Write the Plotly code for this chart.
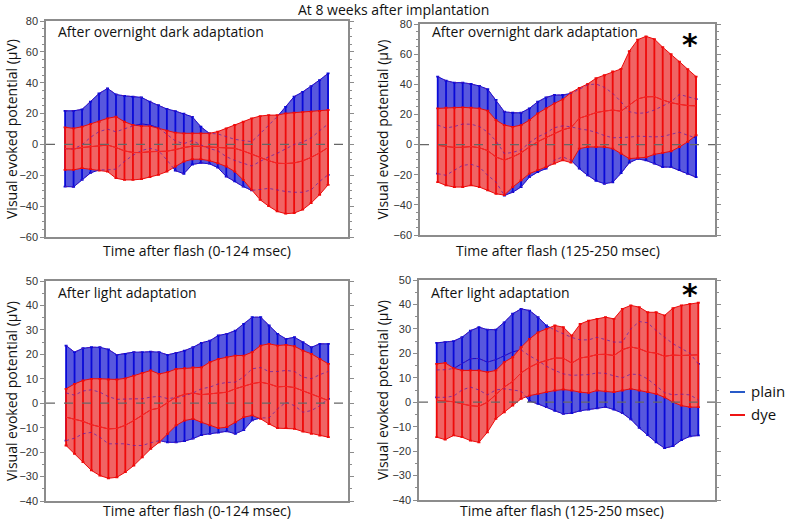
import plotly.graph_objects as go

# ---------------- data ----------------
t_early = list(range(0, 125, 4))      # msec, 0-124
t_late = list(range(125, 250, 4))     # msec, 125-249

# Panel 1: dark adaptation, 0-124 msec
p1_plain_upper = [21.8, 21.8, 22.7, 27.7, 33.0, 36.3, 32.4, 31.5, 30.9, 30.5, 27.7, 25.5, 23.0, 21.6, 20.0, 17.9,
                  11.5, 7.2, 6.8, 5.0, 3.3, 2.5, 1.8, 7.0, 12.6, 18.0, 24.4, 31.0, 34.0, 37.8, 41.7, 46.0]
p1_plain_lower = [-27.3, -27.5, -23.0, -18.5, -16.5, -16.5, -16.0, -11.0, -7.0, -4.0, -2.5, -4.0, -10.0, -17.0, -19.0, -13.0,
                  -12.0, -12.5, -15.0, -20.8, -24.0, -27.3, -29.8, -29.0, -28.5, -29.5, -30.5, -31.0, -31.0, -29.5, -24.0, -19.7]
p1_plain_mean = [-2.8, -2.9, -0.2, 4.6, 8.3, 9.9, 8.2, 10.3, 12.0, 13.3, 12.6, 10.8, 6.5, 2.3, 0.5, 2.5,
                 -0.3, -2.7, -4.1, -7.9, -10.4, -12.4, -14.0, -11.0, -8.0, -5.8, -3.0, 0.0, 1.5, 4.2, 8.9, 13.2]
p1_dye_upper = [11.1, 10.4, 11.5, 13.2, 14.7, 16.9, 18.0, 14.7, 12.6, 11.9, 11.9, 10.4, 8.9, 7.6, 7.2, 7.2,
                7.2, 7.2, 8.3, 10.4, 12.6, 14.7, 16.9, 18.4, 19.0, 19.0, 20.1, 20.6, 21.0, 21.2, 21.6, 22.3]
p1_dye_lower = [-16.5, -16.5, -15.4, -16.0, -16.9, -17.6, -21.9, -23.0, -23.0, -22.5, -21.2, -19.7, -17.6, -14.3, -11.1, -9.6,
                -9.6, -10.5, -12.2, -14.3, -17.6, -23.0, -29.4, -35.9, -40.0, -43.4, -44.9, -44.5, -42.3, -38.0, -32.6, -26.2]
p1_dye_mean = [-2.7, -3.0, -2.0, -1.4, -1.1, -0.4, -2.0, -4.2, -5.2, -5.3, -4.7, -4.7, -4.4, -3.4, -2.0, -1.2,
               -1.2, -1.7, -2.0, -2.0, -2.5, -4.2, -6.3, -8.8, -10.5, -12.2, -12.4, -12.0, -10.7, -8.4, -5.5, -2.0]

# Panel 2: dark adaptation, 125-250 msec
p2_plain_upper = [45.1, 42.4, 41.1, 41.1, 40.2, 38.9, 36.7, 29.6, 21.8, 21.1, 21.1, 24.0, 28.4, 31.3, 32.9, 32.9,
                  34.0, 36.7, 39.6, 40.2, 38.0, 34.0, 28.4, 21.8, 20.7, 21.1, 22.9, 25.6, 28.4, 33.3, 31.8, 30.2]
p2_plain_lower = [-19.3, -20.4, -17.0, -13.8, -13.1, -14.9, -20.4, -24.9, -33.8, -31.6, -28.2, -21.6, -18.2, -16.0, -10.4, -8.2,
                  -10.4, -16.0, -20.4, -24.0, -26.0, -25.0, -19.0, -12.0, -9.5, -10.5, -12.7, -14.9, -15.0, -17.0, -19.5, -21.6]
p2_plain_mean = [12.9, 11.0, 12.0, 13.6, 13.5, 12.0, 8.2, 2.4, -6.0, -5.2, -3.5, 1.2, 5.1, 7.6, 11.2, 12.4,
                 11.8, 10.4, 9.6, 8.1, 6.0, 4.5, 4.7, 4.9, 5.6, 5.3, 5.1, 5.4, 6.7, 8.2, 6.2, 4.3]
p2_dye_upper = [24.0, 24.5, 24.5, 24.7, 24.5, 24.0, 22.5, 16.2, 12.9, 11.8, 12.9, 16.2, 20.7, 24.0, 27.3, 30.0,
                34.5, 37.6, 40.2, 44.0, 46.0, 48.5, 50.2, 62.0, 69.6, 71.8, 70.0, 64.6, 60.0, 55.0, 50.0, 45.1]
p2_dye_lower = [-24.9, -27.1, -28.2, -28.2, -27.1, -28.2, -30.4, -32.7, -33.5, -28.2, -23.8, -19.3, -17.0, -14.9, -12.7, -10.4,
                -12.0, -2.7, -1.6, -1.6, -1.6, -2.7, -6.0, -9.3, -9.0, -8.5, -6.5, -5.5, -4.5, -1.6, 1.8, 6.2]
p2_dye_mean = [-0.5, -1.3, -1.9, -1.8, -1.3, -2.1, -4.0, -8.3, -10.3, -8.2, -5.5, -1.6, 1.9, 4.6, 7.3, 9.8,
               11.3, 17.5, 19.3, 21.2, 22.2, 22.9, 22.1, 26.4, 30.3, 31.7, 31.8, 29.6, 27.8, 26.7, 25.9, 25.7]

# Panel 3: light adaptation, 0-124 msec
p3_plain_upper = [23.6, 20.9, 22.5, 22.9, 22.9, 22.0, 19.8, 20.2, 20.9, 20.9, 21.1, 20.9, 19.8, 20.6, 21.5, 22.9,
                  24.7, 25.6, 27.7, 28.4, 29.7, 32.5, 35.2, 35.2, 31.8, 28.4, 26.3, 27.0, 25.0, 22.9, 24.3, 24.3]
p3_plain_lower = [-15.3, -14.3, -12.5, -11.9, -13.9, -16.6, -16.6, -16.6, -17.3, -17.3, -16.2, -15.3, -16.0, -16.0, -15.5, -14.5,
                  -13.0, -12.5, -12.0, -11.5, -12.5, -11.0, -7.0, -6.0, -6.0, -2.3, 0.4, -1.0, -3.7, -3.0, -1.0, 1.8]
p3_plain_mean = [4.2, 3.3, 5.0, 5.5, 4.5, 2.7, 1.6, 1.8, 1.8, 1.8, 2.5, 2.8, 1.9, 2.3, 3.0, 4.2,
                 5.9, 6.6, 7.9, 8.5, 8.6, 10.8, 14.1, 14.6, 12.9, 13.0, 13.4, 13.0, 10.7, 10.0, 11.7, 13.0]
p3_dye_upper = [5.9, 7.9, 9.3, 10.0, 10.0, 9.7, 9.7, 10.2, 11.3, 12.4, 13.4, 12.0, 12.7, 14.0, 14.3, 14.7,
                14.7, 16.8, 18.1, 18.8, 19.5, 19.5, 20.9, 23.6, 24.3, 23.6, 23.9, 23.3, 21.5, 20.2, 18.1, 16.1]
p3_dye_lower = [-17.3, -20.7, -24.1, -27.5, -29.6, -30.7, -30.3, -28.2, -25.5, -22.1, -18.7, -16.0, -12.5, -9.1, -7.1, -6.4,
                -7.8, -9.1, -10.2, -9.8, -7.8, -5.7, -5.0, -6.4, -8.5, -10.2, -10.2, -10.5, -11.6, -12.5, -13.2, -13.9]
p3_dye_mean = [-5.7, -6.4, -7.4, -8.8, -9.8, -10.5, -10.3, -9.0, -7.1, -4.9, -2.7, -2.0, 0.1, 2.5, 3.6, 4.2,
               3.5, 3.9, 4.0, 4.5, 5.9, 6.9, 8.0, 8.6, 7.9, 6.7, 6.9, 6.4, 5.0, 3.9, 2.5, 1.1]

# Panel 4: light adaptation, 125-250 msec
p4_plain_upper = [24.3, 24.6, 25.0, 26.6, 29.3, 30.7, 29.7, 29.7, 32.7, 36.2, 38.2, 37.5, 34.8, 31.4, 29.5, 28.0,
                  26.5, 25.5, 25.5, 26.6, 25.5, 24.6, 24.6, 30.0, 33.0, 32.5, 29.3, 26.5, 23.9, 22.0, 20.0, 15.7]
p4_plain_lower = [2.0, 2.0, 2.5, 5.0, 6.2, 5.0, 3.0, 5.0, 5.5, 5.0, 4.5, 0.5, -0.7, -2.0, -3.5, -4.8,
                  -4.5, -3.5, -3.0, -2.5, -2.0, -3.0, -4.5, -7.0, -10.5, -13.5, -16.4, -18.8, -18.0, -15.5, -14.0, -13.6]
p4_plain_mean = [13.2, 13.3, 13.8, 15.8, 17.8, 17.9, 16.4, 17.4, 19.1, 20.6, 21.4, 19.0, 17.0, 14.7, 13.0, 11.6,
                 11.0, 11.0, 11.3, 12.0, 11.8, 10.8, 10.0, 11.5, 11.3, 9.5, 6.5, 3.9, 3.0, 3.3, 3.0, 1.0]
p4_dye_upper = [15.7, 16.1, 13.9, 13.0, 13.0, 13.0, 12.3, 13.0, 16.4, 18.4, 22.5, 25.9, 28.6, 30.0, 31.4, 30.7,
                27.3, 32.0, 33.4, 34.1, 34.8, 34.1, 38.2, 39.6, 38.9, 36.8, 36.8, 35.5, 38.5, 39.6, 40.2, 40.7]
p4_dye_lower = [-14.3, -15.3, -13.6, -14.3, -15.7, -16.4, -12.3, -6.8, -4.1, -1.4, 1.4, 2.7, 3.4, 4.1, 4.8, 5.2,
                4.8, 4.1, 3.8, 4.8, 4.4, 4.1, 4.8, 5.5, 4.8, 4.1, 3.4, 2.0, 0.0, -1.4, -2.0, -2.0]
p4_dye_mean = [0.7, 0.4, 0.2, -0.7, -1.4, -1.7, 0.0, 3.1, 6.2, 8.5, 12.0, 14.3, 16.0, 17.1, 18.1, 18.0,
               16.0, 18.1, 18.6, 19.5, 19.6, 19.1, 21.5, 22.6, 21.9, 20.5, 20.1, 18.8, 19.3, 19.1, 19.1, 19.4]

main_title = "At 8 weeks after implantation"
y_title = "Visual evoked potential (μV)"
x_titles = ["Time after flash (0-124 msec)", "Time after flash (125-250 msec)",
            "Time after flash (0-124 msec)", "Time after flash (125-250 msec)"]
panel_labels = ["After overnight dark adaptation", "After overnight dark adaptation",
                "After light adaptation", "After light adaptation"]
legend_names = ["plain", "dye"]
y_ranges = [(-60, 80), (-60, 80), (-40, 50), (-40, 50)]
y_dticks = [20, 20, 10, 10]
x_ranges = [(-9.0, 133.4), (116.5, 258.1), (-9.5, 133.3), (116.6, 256.9)]
significant = [False, True, False, True]

panels = [
    (t_early, p1_plain_upper, p1_plain_lower, p1_plain_mean, p1_dye_upper, p1_dye_lower, p1_dye_mean),
    (t_late, p2_plain_upper, p2_plain_lower, p2_plain_mean, p2_dye_upper, p2_dye_lower, p2_dye_mean),
    (t_early, p3_plain_upper, p3_plain_lower, p3_plain_mean, p3_dye_upper, p3_dye_lower, p3_dye_mean),
    (t_late, p4_plain_upper, p4_plain_lower, p4_plain_mean, p4_dye_upper, p4_dye_lower, p4_dye_mean),
]

# ---------------- layout geometry (page pixels; body margin removed below) ----------------
W, H = 787, 522


def px(xp):
    return xp / W


def py(yp):
    return 1 - yp / H


boxes = [  # (left, right, top, bottom)
    (46, 348, 21, 237),
    (420, 715, 24, 235),
    (46, 348, 281, 501),
    (419, 715, 280, 500),
]
label_y = [32, 32, 292, 292]
xtitle_y = [250, 250, 510, 510]
xtitle_cx = [197, 558, 197, 562]
star_y = [None, 44, None, 294]

PLAIN_BAR = "rgb(10,10,215)"
PLAIN_FILL = "rgb(88,88,222)"
DYE_BAR = "rgb(238,10,10)"
DYE_FILL = "rgb(240,100,100)"
THROUGH = "rgba(100,30,170,0.75)"
LEGEND_COLORS = ["rgb(40,90,200)", "rgb(238,20,20)"]

TXT = "Open Sans"
TICKF = "Liberation Sans"

fig = go.Figure()

for k, (t, pu, pl, pm, du, dl, dm) in enumerate(panels):
    ax = "" if k == 0 else str(k + 1)
    xa, ya = "x" + ax, "y" + ax

    def band(up, lo, fill, edge):
        fig.add_trace(go.Scatter(
            x=list(t) + list(t)[::-1], y=list(up) + list(lo)[::-1],
            fill="toself", fillcolor=fill, mode="lines",
            line=dict(color=edge, width=1), hoverinfo="skip",
            showlegend=False, xaxis=xa, yaxis=ya))

    def bars(up, lo, mean, color, name):
        fig.add_trace(go.Scatter(
            x=t, y=mean, mode="lines", name=name,
            line=dict(color=color, width=1),
            error_y=dict(type="data", symmetric=False,
                         array=[u - m for u, m in zip(up, mean)],
                         arrayminus=[m - l for m, l in zip(mean, lo)],
                         color=color, thickness=1.8, width=1.5),
            showlegend=False, xaxis=xa, yaxis=ya))

    band(pu, pl, PLAIN_FILL, PLAIN_BAR)
    bars(pu, pl, pm, PLAIN_BAR, legend_names[0])
    band(du, dl, DYE_FILL, DYE_BAR)
    bars(du, dl, dm, DYE_BAR, legend_names[1])
    # plain lines showing through the dye bars
    for arr in (pu, pl, pm):
        fig.add_trace(go.Scatter(x=t, y=arr, mode="lines",
                                 line=dict(color=THROUGH, width=1, dash="dot"),
                                 hoverinfo="skip", showlegend=False, xaxis=xa, yaxis=ya))
    fig.add_trace(go.Scatter(x=t, y=dm, mode="lines",
                             line=dict(color="rgb(245,40,40)", width=1),
                             hoverinfo="skip", showlegend=False, xaxis=xa, yaxis=ya))

    l, r, tp, bt = boxes[k]
    axis_common = dict(showline=True, linecolor="#8c8c8c", linewidth=1.5, mirror="ticks",
                       showgrid=False, zeroline=False)
    fig.update_layout({
        "xaxis" + ax: dict(domain=[px(l), px(r)], range=list(x_ranges[k]), anchor=ya,
                           showticklabels=False, ticks="", **axis_common),
        "yaxis" + ax: dict(domain=[py(bt), py(tp)], range=list(y_ranges[k]), anchor=xa,
                           dtick=y_dticks[k], ticks="outside", ticklen=4, tickwidth=1, tickcolor="#8c8c8c",
                           minor=dict(dtick=5, ticks="outside", ticklen=2, tickcolor="#8c8c8c"),
                           tickfont=dict(family=TICKF, size=11, color="#333333"),
                           **axis_common),
    })
    # dashed zero line
    fig.add_shape(type="line", xref=xa + " domain", yref=ya, x0=0, x1=1, y0=0, y1=0,
                  line=dict(color="#666666", width=1.2, dash="dash"))

    # panel label
    fig.add_annotation(text=panel_labels[k], xref="paper", yref="paper",
                       x=px(l + 10), y=py(label_y[k]), xanchor="left", yanchor="middle",
                       showarrow=False, font=dict(family=TXT, size=14, color="#111111"))
    # x title
    fig.add_annotation(text=x_titles[k], xref="paper", yref="paper",
                       x=px(xtitle_cx[k]), y=py(xtitle_y[k]),
                       xanchor="center", yanchor="middle", showarrow=False,
                       font=dict(family=TXT, size=14, color="#111111"))
    # y title
    fig.add_annotation(text=y_title, xref="paper", yref="paper",
                       x=px(11 if k % 2 == 0 else 382), y=py((tp + bt) / 2),
                       textangle=-90, xanchor="center", yanchor="middle", showarrow=False,
                       font=dict(family=TXT, size=14, color="#111111"))
    if significant[k]:
        fig.add_annotation(text="<b>*</b>", xref="paper", yref="paper",
                           x=px(690), y=py(star_y[k]), xanchor="center", yanchor="middle",
                           showarrow=False, font=dict(family="DejaVu Sans", size=30, color="#000000"))

fig.add_annotation(text=main_title, xref="paper", yref="paper", x=px(393), y=py(9),
                   xanchor="center", yanchor="middle", showarrow=False,
                   font=dict(family=TXT, size=14, color="#111111"))

# legend (keys + labels at the reference position)
for i, name in enumerate(legend_names):
    yk = 392 + 23 * i
    fig.add_shape(type="line", xref="paper", yref="paper",
                  x0=px(730), x1=px(745), y0=py(yk), y1=py(yk),
                  line=dict(color=LEGEND_COLORS[i], width=2))
    fig.add_annotation(text=name, xref="paper", yref="paper", x=px(749), y=py(yk - 1),
                       xanchor="left", yanchor="middle", showarrow=False,
                       font=dict(family=TXT, size=15, color="#111111"))

fig.update_layout(
    width=W, height=H, margin=dict(l=0, r=0, t=0, b=0, autoexpand=False),
    paper_bgcolor="white", plot_bgcolor="white",
    showlegend=False,
)

fig.write_html("out.html", config={"displayModeBar": False},
               post_script="document.body.style.margin='0';document.body.style.overflow='hidden';")
